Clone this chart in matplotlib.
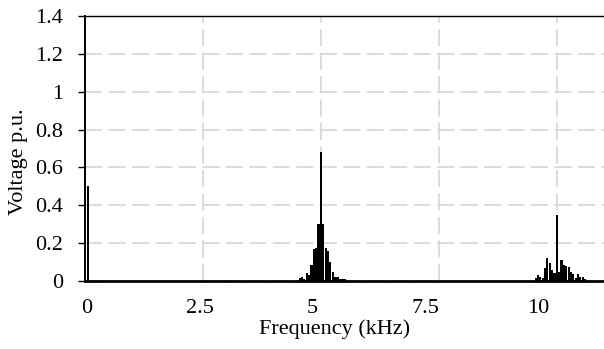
import matplotlib
matplotlib.use("Agg")
import matplotlib.pyplot as plt

# ---- data (kHz, p.u.) ----
fund_freq = [0.06]
fund_amp = [0.50]

band5_freq = [4.55, 4.60, 4.65, 4.70, 4.75, 4.80, 4.85, 4.90, 4.95, 5.00,
              5.05, 5.10, 5.15, 5.20, 5.25, 5.30, 5.35, 5.40, 5.45, 5.50]
band5_amp = [0.015, 0.020, 0.010, 0.040, 0.030, 0.085, 0.170, 0.175, 0.300, 0.680,
             0.300, 0.175, 0.160, 0.100, 0.050, 0.020, 0.020, 0.012, 0.010, 0.008]

band10_freq = [9.55, 9.60, 9.65, 9.70, 9.75, 9.80, 9.85, 9.90, 9.95, 10.00,
               10.05, 10.10, 10.15, 10.20, 10.25, 10.30, 10.35, 10.40, 10.45,
               10.50, 10.55, 10.60]
band10_amp = [0.015, 0.030, 0.020, 0.015, 0.070, 0.120, 0.095, 0.060, 0.040, 0.350,
              0.050, 0.110, 0.085, 0.080, 0.075, 0.050, 0.035, 0.015, 0.035,
              0.020, 0.020, 0.010]

xtick_vals = [0, 2.5, 5, 7.5, 10]
xtick_labels = ["0", "2.5", "5", "7.5", "10"]
ytick_vals = [0, 0.2, 0.4, 0.6, 0.8, 1.0, 1.2, 1.4]
ytick_labels = ["0", "0.2", "0.4", "0.6", "0.8", "1", "1.2", "1.4"]

plt.rcParams['font.family'] = ['Liberation Serif', 'DejaVu Serif']

W, H = 604, 349
fig = plt.figure(figsize=(W / 100, H / 100), dpi=100)
ax = fig.add_axes([85 / W, 1 - 281 / H, 1 - 85 / W, (281 - 16) / H])

ax.set_xlim(0, 11)
ax.set_ylim(0, 1.4)

grid_kw = dict(color='#d9d9d9', lw=1.3, linestyle=(0, (9.5, 3.5)))
# vertical grid lines at true values (minor ticks), labels (major) placed like the source
ax.set_xticks(xtick_vals[1:], minor=True)
ax.grid(which='minor', axis='x', **grid_kw)
label_pos = [0.04 + v * 0.956 for v in xtick_vals]
ax.set_xticks(label_pos, xtick_labels)
ax.tick_params(axis='x', which='both', length=0, pad=13, labelsize=16)

ax.set_yticks(ytick_vals, ytick_labels)
ax.grid(which='major', axis='y', **grid_kw)
ax.tick_params(axis='y', length=5, width=1, direction='out', pad=11, labelsize=16)
ax.set_axisbelow(True)

for f, a in ((fund_freq, fund_amp), (band5_freq, band5_amp), (band10_freq, band10_amp)):
    ax.bar(f, a, width=0.046, color='black', linewidth=0, zorder=3)

ax.spines['right'].set_visible(False)
ax.spines['left'].set_linewidth(1.4)
ax.spines['bottom'].set_linewidth(2.0)
ax.spines['top'].set_linewidth(1.0)
for s in ax.spines.values():
    s.set_zorder(5)

fig.text(335 / W, 1 - 329 / H, "Frequency (kHz)", ha='center', va='center', fontsize=16)
fig.text(19 / W, 1 - 162 / H, "Voltage p.u.", ha='center', va='center', rotation=90, fontsize=16)

fig.savefig("out.png", dpi=100)
